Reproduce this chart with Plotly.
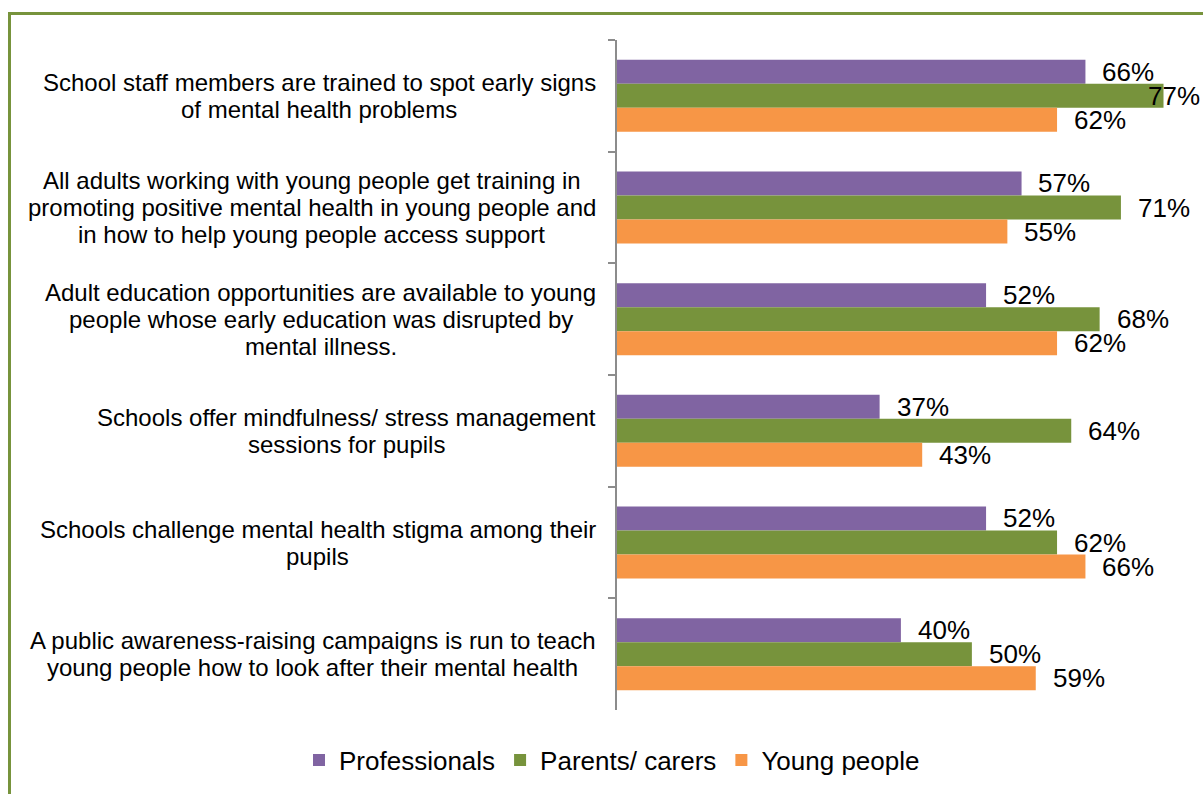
import plotly.graph_objects as go

categories = [
    "School staff members are trained to spot early signs<br>of mental health problems",
    "All adults working with young people get training in<br>promoting positive mental health in young people and<br>in how to help young people access support",
    "Adult education opportunities are available to young<br>people whose early education was disrupted by<br>mental illness.",
    "Schools offer mindfulness/ stress management<br>sessions for pupils",
    "Schools challenge mental health stigma among their<br>pupils",
    "A public awareness-raising campaigns is run to teach<br>young people how to look after their mental health",
]
cat_ids = [f"c{i}" for i in range(len(categories))]

professionals = [66, 57, 52, 37, 52, 40]
parents_carers = [77, 71, 68, 64, 62, 50]
young_people = [62, 55, 62, 43, 66, 59]

series = [
    ("Professionals", professionals, "#8064A2"),
    ("Parents/ carers", parents_carers, "#77933C"),
    ("Young people", young_people, "#F79646"),
]

W, H = 1203, 794
L, R, T, B = 4, 4, 40, 84
AXIS_X = 617
X_MAX = 82.0
FONT = "Liberation Sans, Arial, sans-serif"
LABEL_SIZE = 24
LINE_H = 27

# Arial / Liberation Sans advance widths (1/1000 em) for centring label lines
ADV = {" ": 278, ".": 278, "/": 278, "-": 333, "A": 667, "S": 667,
       "a": 556, "b": 556, "c": 500, "d": 556, "e": 556, "f": 278, "g": 556,
       "h": 556, "i": 222, "j": 222, "k": 500, "l": 222, "m": 833, "n": 556,
       "o": 556, "p": 556, "q": 556, "r": 333, "s": 500, "t": 278, "u": 556,
       "v": 500, "w": 722, "x": 500, "y": 500, "z": 500}


def text_w(s, size):
    return sum(ADV.get(ch, 556) for ch in s) * size / 1000.0


pw = W - L - R
ph = H - T - B
x_dom0 = (AXIS_X - L) / pw

fig = go.Figure()
for name, vals, color in series:
    fig.add_trace(go.Bar(
        y=cat_ids, x=vals, name=name, orientation="h",
        marker=dict(color=color, line=dict(width=0)),
        hoverinfo="x+name",
    ))

annotations = []
# value labels placed just past the bar ends, kept inside the canvas
n = len(series)
bargap = 0.355
group_w = 1 - bargap
for si, (name, vals, color) in enumerate(series):
    offset = -group_w / 2 + group_w / n * (si + 0.5)
    for ci, v in enumerate(vals):
        annotations.append(dict(
            x=min(v + 2.1, 74.5), y=ci + offset, xref="x", yref="y",
            text=f"{v}%", showarrow=False, xanchor="left", yanchor="middle",
            font=dict(family=FONT, size=26, color="#000000"),
        ))

# category labels: block right-aligned to the axis, lines centred in the block
for ci, label in enumerate(categories):
    lines = label.split("<br>")
    block_w = max(text_w(s, LABEL_SIZE) for s in lines)
    k = len(lines)
    for li, line in enumerate(lines):
        annotations.append(dict(
            x=0, y=ci, xref="x domain", yref="y", text=line, showarrow=False,
            xanchor="center", yanchor="middle",
            xshift=-21 - block_w / 2,
            yshift=-(li - (k - 1) / 2) * LINE_H,
            font=dict(family=FONT, size=LABEL_SIZE, color="#000000"),
        ))

fig.update_layout(
    width=W, height=H,
    margin=dict(l=L, r=R, t=T, b=B),
    paper_bgcolor="white", plot_bgcolor="white",
    barmode="group", bargap=bargap, bargroupgap=0,
    showlegend=True,
    legend=dict(
        orientation="h", xref="paper", yref="paper",
        x=(612 - L) / pw, xanchor="center", y=-(760 - T - ph) / ph, yanchor="middle",
        font=dict(family=FONT, size=26, color="#000000"),
        itemwidth=30, tracegroupgap=0,
    ),
    xaxis=dict(domain=[x_dom0, 1], range=[0, X_MAX], visible=False, fixedrange=True),
    yaxis=dict(
        categoryorder="array", categoryarray=cat_ids,
        autorange="reversed", showticklabels=False,
        showline=True, linecolor="#8C8C8C", linewidth=1.5,
        ticks="outside", tickson="boundaries", ticklen=7,
        tickcolor="#8C8C8C", tickwidth=1.5,
        showgrid=False, zeroline=False,
    ),
    annotations=annotations,
)

# green frame around the chart area
def px_x(p):
    return (p - L) / pw
def px_y(p):
    return 1 - (p - T) / ph
fig.add_shape(
    type="rect", xref="paper", yref="paper",
    x0=px_x(9.5), x1=px_x(W + 20), y0=px_y(H + 20), y1=px_y(13.5),
    line=dict(color="#77933C", width=3), fillcolor="rgba(0,0,0,0)",
    layer="above",
)

fig.write_html("out.html")
